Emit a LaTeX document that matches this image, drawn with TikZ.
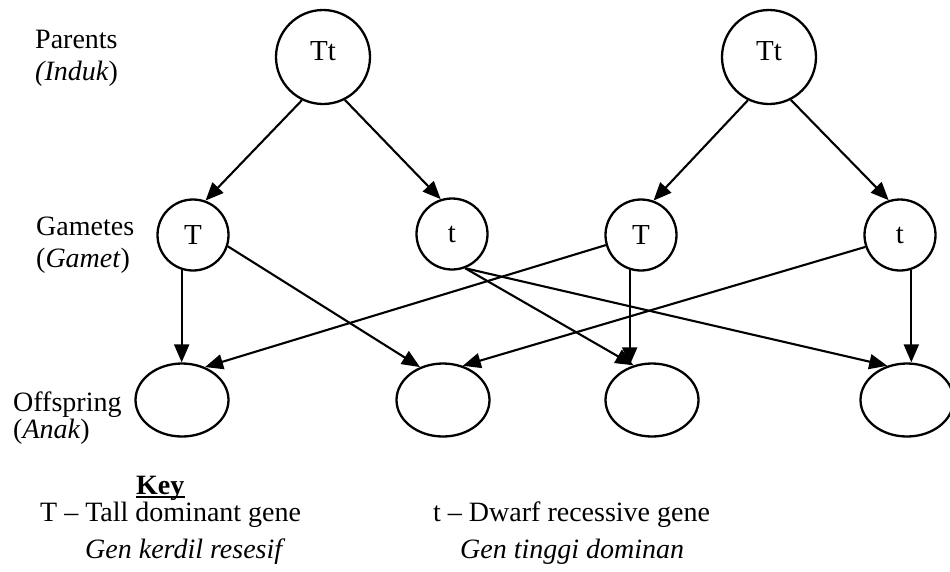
\documentclass[tikz,border=0pt]{standalone}
\usepackage{fontspec}
\setmainfont{Liberation Serif}
\usetikzlibrary{arrows.meta,shapes.geometric}
\begin{document}
\begin{tikzpicture}[x=1pt,y=-1pt,
  every node/.style={font=\fontsize{28}{32}\selectfont},
  parent/.style={draw, circle, line width=2.3pt, minimum size=94pt, inner sep=0pt,
    font=\fontsize{29}{32}\selectfont, text height=19pt, text depth=12pt},
  gamete/.style={draw, circle, line width=2.3pt, minimum size=71pt, inner sep=0pt,
    font=\fontsize{29}{32}\selectfont},
  offspring/.style={draw, ellipse, line width=2.3pt, minimum width=93pt,
    minimum height=73pt, inner sep=0pt},
  link/.style={line width=2.1pt, -{Triangle[length=18pt,width=15pt]}},
  lbl/.style={anchor=base west, inner sep=0pt}]
\useasboundingbox (0,0) rectangle (950,571);

% row labels
\node[lbl] (par)   at (35,48)  {Parents};
\node[lbl] (parit) at (35,80)  {\textit{(Induk})};
\node[lbl] (gam)   at (36,235) {Gametes};
\node[lbl] (gamit) at (36,267) {(\textit{Gamet})};
\node[lbl] (off)   at (13,411) {Offspring};
\node[lbl] (offit) at (13,438) {(\textit{Anak})};

% parents
\node[parent] (p1) at (323,57) {Tt};
\node[parent] (p2) at (769,57) {Tt};

% gametes
\node[gamete] (g1) at (193,235) {T};
\node[gamete] (g2) at (452,234) {t};
\node[gamete] (g3) at (641,235) {T};
\node[gamete] (g4) at (900,235) {t};

% offspring
\node[offspring] (o1) at (182,400) {};
\node[offspring] (o2) at (443,400) {};
\node[offspring] (o3) at (652,400) {};
\node[offspring] (o4) at (907,400) {};

% parents to gametes
\draw[link] (p1.-116) -- (g1.70);
\draw[link] (p1.-63)  -- (g2.108);
\draw[link] (p2.-116) -- (g3.70);
\draw[link] (p2.-63)  -- (g4.108);

% gametes to offspring
\draw[link] (g1.-108) -- (g1.-108 |- o1.north);
\draw[link] (g1.-18)  -- (o2.125);
\draw[link] (g2.-69)  -- (o3.118);
\draw[link] (g2.-69)  -- (o4.120);
\draw[link] (g3.-108) -- (g3.-108 |- o3.118);
\draw[link] (g3.-164) -- (o1.55);
\draw[link] (g4.-72)  -- (g4.-72 |- o4.north);
\draw[link] (g4.-161) -- (o2.60);

% key, with its underline
\node[lbl] (key) at (136,494) {\textbf{Key}};
\draw[line width=1.5pt] ([yshift=-3pt]key.base west) -- ([yshift=-3pt]key.base east);
\node[lbl] (k1) at (40,521)  {T – Tall dominant gene};
\node[lbl] (k2) at (85,558)  {\textit{Gen kerdil resesif}};
\node[lbl] (k3) at (433,521) {t – Dwarf recessive gene};
\node[lbl] (k4) at (460,558) {\textit{Gen tinggi dominan}};
\end{tikzpicture}
\end{document}
